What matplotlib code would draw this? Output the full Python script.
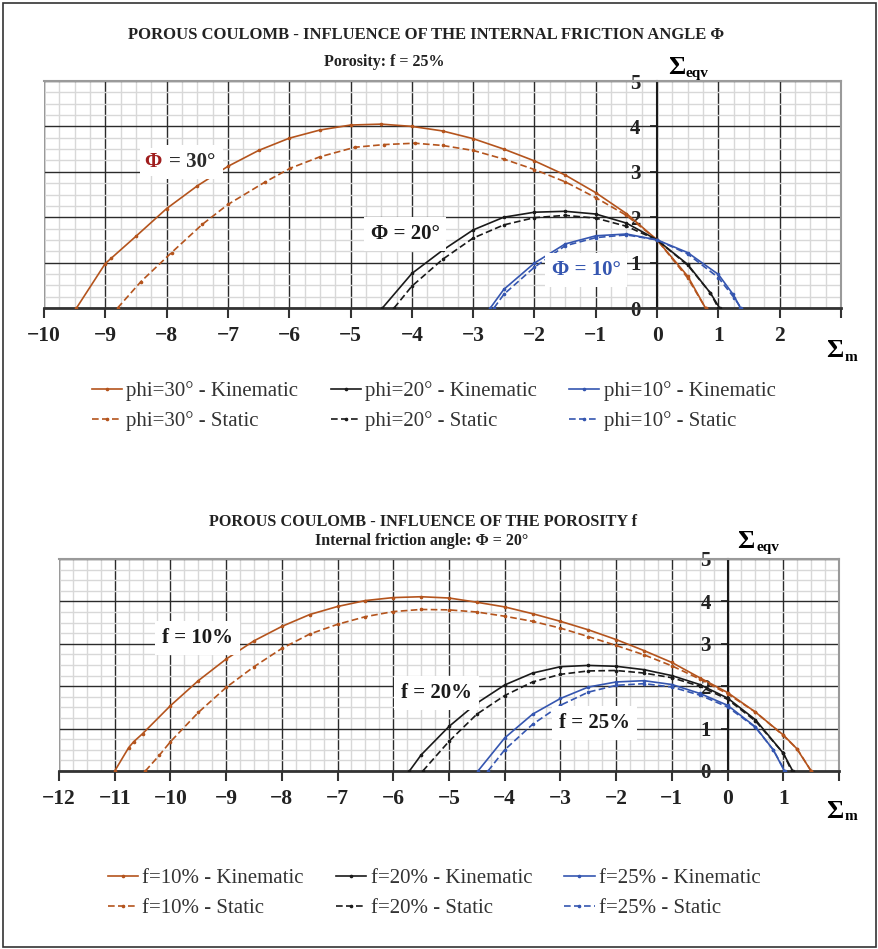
import matplotlib
matplotlib.use('Agg')
import matplotlib.pyplot as plt
from matplotlib.ticker import MultipleLocator
import matplotlib.patches as patches

plt.rcParams['font.family'] = ['Liberation Serif', 'DejaVu Serif']

ORANGE = '#b4541d'
BLACK = '#1a1a1a'
BLUE = '#3556b0'

# ---- panel 1 : influence of the internal friction angle (f = 25%) ----
phi30_kin_x = [-9.47, -9.0, -8.9, -8.5, -8.0, -7.5, -7.0, -6.5, -6.0, -5.5, -5.0, -4.5, -4.0,
               -3.5, -3.0, -2.5, -2.0, -1.5, -1.0, -0.5, 0.0, 0.5, 0.79]
phi30_kin_y = [0.0, 0.98, 1.1, 1.58, 2.19, 2.69, 3.12, 3.47, 3.74, 3.92, 4.03, 4.05, 4.0,
               3.9, 3.73, 3.5, 3.24, 2.93, 2.54, 2.08, 1.5, 0.7, 0.0]
phi30_sta_x = [-8.8, -8.42, -7.92, -7.42, -7.0, -6.4, -5.98, -5.5, -4.93, -4.45, -3.95, -3.5, -3.0,
               -2.5, -2.0, -1.5, -1.0, -0.5, 0.0, 0.5, 0.79]
phi30_sta_y = [0.0, 0.58, 1.22, 1.84, 2.28, 2.77, 3.08, 3.33, 3.54, 3.6, 3.63, 3.58, 3.47,
               3.28, 3.05, 2.78, 2.43, 2.04, 1.5, 0.66, 0.0]
phi20_kin_x = [-4.48, -4.0, -3.5, -3.0, -2.5, -2.0, -1.5, -1.0, -0.5, 0.0, 0.5, 0.87, 1.02]
phi20_kin_y = [0.0, 0.76, 1.27, 1.72, 2.0, 2.11, 2.13, 2.07, 1.87, 1.5, 0.96, 0.33, 0.0]
phi20_sta_x = [-4.29, -4.0, -3.5, -3.0, -2.5, -2.0, -1.5, -1.0, -0.5, 0.0, 0.5, 0.87, 1.0]
phi20_sta_y = [0.0, 0.48, 1.07, 1.54, 1.83, 1.99, 2.04, 1.98, 1.8, 1.5, 0.94, 0.33, 0.0]
phi10_kin_x = [-2.72, -2.5, -2.0, -1.5, -1.0, -0.5, 0.0, 0.5, 1.0, 1.24, 1.36]
phi10_kin_y = [0.0, 0.41, 0.99, 1.41, 1.59, 1.63, 1.5, 1.22, 0.74, 0.3, 0.0]
phi10_sta_x = [-2.66, -2.5, -2.0, -1.5, -1.0, -0.5, 0.0, 0.5, 1.0, 1.26, 1.37]
phi10_sta_y = [0.0, 0.3, 0.9, 1.37, 1.55, 1.61, 1.5, 1.19, 0.67, 0.22, 0.0]

# ---- panel 2 : influence of the porosity (phi = 20 deg) ----
f10_kin_x = [-11.0, -10.75, -10.66, -10.5, -10.0, -9.5, -9.0, -8.5, -8.0, -7.5, -7.0, -6.5, -6.0,
             -5.5, -5.0, -4.5, -4.0, -3.5, -3.0, -2.5, -2.0, -1.5, -1.0, -0.5, 0.0, 0.5, 1.0, 1.24, 1.5]
f10_kin_y = [0.0, 0.55, 0.69, 0.88, 1.54, 2.13, 2.64, 3.07, 3.41, 3.69, 3.88, 4.02, 4.09,
             4.11, 4.08, 3.98, 3.87, 3.71, 3.53, 3.33, 3.1, 2.84, 2.56, 2.2, 1.85, 1.39, 0.85, 0.53, 0.0]
f10_sta_x = [-10.45, -10.2, -10.0, -9.5, -9.0, -8.5, -8.0, -7.5, -7.0, -6.5, -6.0, -5.5, -5.0,
             -4.5, -4.0, -3.5, -3.0, -2.5, -2.0, -1.5, -1.0, -0.5, 0.0, 0.5, 1.0, 1.25, 1.5]
f10_sta_y = [0.0, 0.37, 0.69, 1.38, 1.97, 2.46, 2.89, 3.23, 3.46, 3.64, 3.76, 3.81, 3.8,
             3.75, 3.65, 3.53, 3.37, 3.17, 2.96, 2.74, 2.48, 2.17, 1.82, 1.39, 0.84, 0.52, 0.0]
f20_kin_x = [-5.71, -5.5, -5.0, -4.5, -4.0, -3.5, -3.0, -2.5, -2.0, -1.5, -1.0, -0.5, 0.0, 0.5, 1.0, 1.17]
f20_kin_y = [0.0, 0.38, 1.05, 1.6, 2.03, 2.31, 2.46, 2.49, 2.47, 2.39, 2.25, 2.04, 1.72, 1.21, 0.42, 0.0]
f20_sta_x = [-5.47, -5.0, -4.5, -4.0, -3.5, -3.0, -2.5, -2.0, -1.5, -1.0, -0.5, 0.0, 0.5, 1.0, 1.15]
f20_sta_y = [0.0, 0.7, 1.34, 1.78, 2.1, 2.28, 2.36, 2.37, 2.31, 2.2, 2.0, 1.69, 1.18, 0.42, 0.0]
f25_kin_x = [-4.48, -4.0, -3.5, -3.0, -2.5, -2.0, -1.5, -1.0, -0.5, 0.0, 0.5, 0.82, 1.02]
f25_kin_y = [0.0, 0.78, 1.34, 1.71, 1.98, 2.1, 2.13, 2.04, 1.83, 1.55, 1.04, 0.5, 0.0]
f25_sta_x = [-4.3, -4.0, -3.5, -3.0, -2.5, -2.0, -1.5, -1.0, -0.5, 0.0, 0.5, 0.82, 1.03]
f25_sta_y = [0.0, 0.5, 1.1, 1.55, 1.86, 2.02, 2.06, 1.98, 1.79, 1.51, 1.03, 0.5, 0.0]

panel1_series = [
    ('phi=30° - Kinematic', phi30_kin_x, phi30_kin_y, ORANGE, '-'),
    ('phi=30° - Static', phi30_sta_x, phi30_sta_y, ORANGE, '--'),
    ('phi=20° - Kinematic', phi20_kin_x, phi20_kin_y, BLACK, '-'),
    ('phi=20° - Static', phi20_sta_x, phi20_sta_y, BLACK, '--'),
    ('phi=10° - Kinematic', phi10_kin_x, phi10_kin_y, BLUE, '-'),
    ('phi=10° - Static', phi10_sta_x, phi10_sta_y, BLUE, '--'),
]
panel2_series = [
    ('f=10% - Kinematic', f10_kin_x, f10_kin_y, ORANGE, '-'),
    ('f=10% - Static', f10_sta_x, f10_sta_y, ORANGE, '--'),
    ('f=20% - Kinematic', f20_kin_x, f20_kin_y, BLACK, '-'),
    ('f=20% - Static', f20_sta_x, f20_sta_y, BLACK, '--'),
    ('f=25% - Kinematic', f25_kin_x, f25_kin_y, BLUE, '-'),
    ('f=25% - Static', f25_sta_x, f25_sta_y, BLUE, '--'),
]


def setup(ax, xmin, xmax):
    ax.set_xlim(xmin, xmax)
    ax.set_ylim(0, 5)
    ax.xaxis.set_major_locator(MultipleLocator(1))
    ax.xaxis.set_minor_locator(MultipleLocator(0.25))
    ax.yaxis.set_major_locator(MultipleLocator(1))
    ax.yaxis.set_minor_locator(MultipleLocator(0.25))
    ax.set_axisbelow(True)
    ax.grid(which='minor', color='#d8d8d8', lw=1.0)
    ax.grid(which='major', color='#2b2b2b', lw=1.0)
    ax.spines['left'].set_position(('data', 0))
    ax.spines['left'].set_color(BLACK)
    ax.spines['left'].set_linewidth(1.5)
    ax.spines['bottom'].set_color('#333333')
    ax.spines['bottom'].set_linewidth(2)
    for s in ['top', 'right']:
        ax.spines[s].set_color('#9a9a9a')
        ax.spines[s].set_linewidth(1.5)
    ax.axvline(xmin, color='#9a9a9a', lw=1.5, zorder=2.4)
    ax.tick_params(which='minor', length=0)
    ax.tick_params(axis='x', which='major', direction='out', length=7, width=1.5,
                   color='#333333', labelsize=15.5, pad=6)
    ax.tick_params(axis='y', which='major', direction='out', length=5, width=1.2,
                   color=BLACK, labelsize=15, pad=7)
    xt = list(range(int(xmin), int(xmax) + 1))
    ax.set_xticks(xt)
    ax.set_xticklabels([str(v).replace('-', '\u2212') for v in xt[:-1]] + [''])
    ax.set_yticks(range(0, 6))
    for lab in ax.get_xticklabels() + ax.get_yticklabels():
        lab.set_fontweight('bold')
        lab.set_color('#222222')


def draw(ax, series):
    handles = []
    for name, xs, ys, col, ls in series:
        ln, = ax.plot(xs, ys, color=col, ls=ls, lw=1.2, marker='o', ms=1.6,
                      dashes=(4, 2) if ls == '--' else (None, None), label=name, zorder=3)
        handles.append(ln)
    return handles


def legend(handles, series, x_left, y_mid):
    leg = fig.legend(handles, [s[0] for s in series],
                     loc='center left', bbox_to_anchor=(x_left / 879, 1 - y_mid / 949),
                     ncol=3, frameon=False, fontsize=15, handlelength=1.45,
                     handletextpad=0.2, columnspacing=1.55, labelspacing=0.5,
                     borderpad=0, borderaxespad=0)
    for t in leg.get_texts():
        t.set_color('#333333')
    return leg


fig = plt.figure(figsize=(8.79, 9.49), dpi=100)

box = dict(facecolor='white', edgecolor='none', pad=5)

# panel 1
ax1 = fig.add_axes([44 / 879, 641 / 949, 797 / 879, 227 / 949])
setup(ax1, -10, 3)
h1 = draw(ax1, panel1_series)
ax1.text(-8.08, 3.22, '\u03a6', color='#a01e1e', fontsize=15, fontweight='bold',
         ha='right', va='center', bbox=dict(facecolor='white', edgecolor='none', pad=3), zorder=5)
ax1.annotate('= 30°', xy=(-8.08, 3.22), xytext=(5.5, 0), textcoords='offset points',
             color='#2a2a2a', fontsize=15, fontweight='bold', ha='left', va='center',
             bbox=box, zorder=4)
ax1.text(-4.11, 1.63, '\u03a6 = 20°', color=BLACK, fontsize=15, fontweight='bold',
         ha='center', va='center', bbox=box, zorder=4)
ax1.text(-1.16, 0.84, '\u03a6 = 10°', color=BLUE, fontsize=15, fontweight='bold',
         ha='center', va='center', bbox=box, zorder=4)

fig.text(426 / 879, 1 - 35 / 949, 'POROUS COULOMB - INFLUENCE OF THE INTERNAL FRICTION ANGLE \u03a6',
         ha='center', va='center', fontsize=12, fontweight='bold', color='#222222')
fig.text(384 / 879, 1 - 62 / 949, 'Porosity: f = 25%', ha='center', va='center',
         fontsize=11.5, fontweight='bold', color='#222222')
fig.text(668 / 879, 1 - 68 / 949, '\u03a3', ha='left', va='center', fontsize=19, fontweight='bold')
fig.text(686 / 879, 1 - 74 / 949, 'eqv', ha='left', va='center', fontsize=11, fontweight='bold')
fig.text(826 / 879, 1 - 351 / 949, '\u03a3', ha='left', va='center', fontsize=19, fontweight='bold')
fig.text(845 / 879, 1 - 357 / 949, 'm', ha='left', va='center', fontsize=11, fontweight='bold')

legend(h1, panel1_series, 92, 406)

# panel 2
ax2 = fig.add_axes([59 / 879, 178 / 949, 780 / 879, 212 / 949])
setup(ax2, -12, 2)
h2 = draw(ax2, panel2_series)
ax2.text(-9.52, 3.14, 'f = 10%', color=BLACK, fontsize=15, fontweight='bold',
         ha='center', va='center', bbox=box, zorder=4)
ax2.text(-5.22, 1.84, 'f = 20%', color=BLACK, fontsize=15, fontweight='bold',
         ha='center', va='center', bbox=box, zorder=4)
ax2.text(-2.39, 1.13, 'f = 25%', color=BLACK, fontsize=15, fontweight='bold',
         ha='center', va='center', bbox=box, zorder=4)

fig.text(423 / 879, 1 - 522 / 949, 'POROUS COULOMB - INFLUENCE OF THE POROSITY f',
         ha='center', va='center', fontsize=11.7, fontweight='bold', color='#222222')
fig.text(422 / 879, 1 - 541 / 949, 'Internal friction angle: \u03a6 = 20°', ha='center', va='center',
         fontsize=11.5, fontweight='bold', color='#222222')
fig.text(737 / 879, 1 - 541 / 949, '\u03a3', ha='left', va='center', fontsize=19, fontweight='bold')
fig.text(757 / 879, 1 - 547 / 949, 'eqv', ha='left', va='center', fontsize=11, fontweight='bold')
fig.text(826 / 879, 1 - 811 / 949, '\u03a3', ha='left', va='center', fontsize=19, fontweight='bold')
fig.text(845 / 879, 1 - 817 / 949, 'm', ha='left', va='center', fontsize=11, fontweight='bold')

legend(h2, panel2_series, 108, 893)

# outer frame
fig.patches.append(patches.Rectangle((3 / 879, 2 / 949), 873 / 879, 944 / 949, transform=fig.transFigure,
                                     fill=False, edgecolor='#333333', lw=1.2))

fig.savefig('out.png', dpi=100)
